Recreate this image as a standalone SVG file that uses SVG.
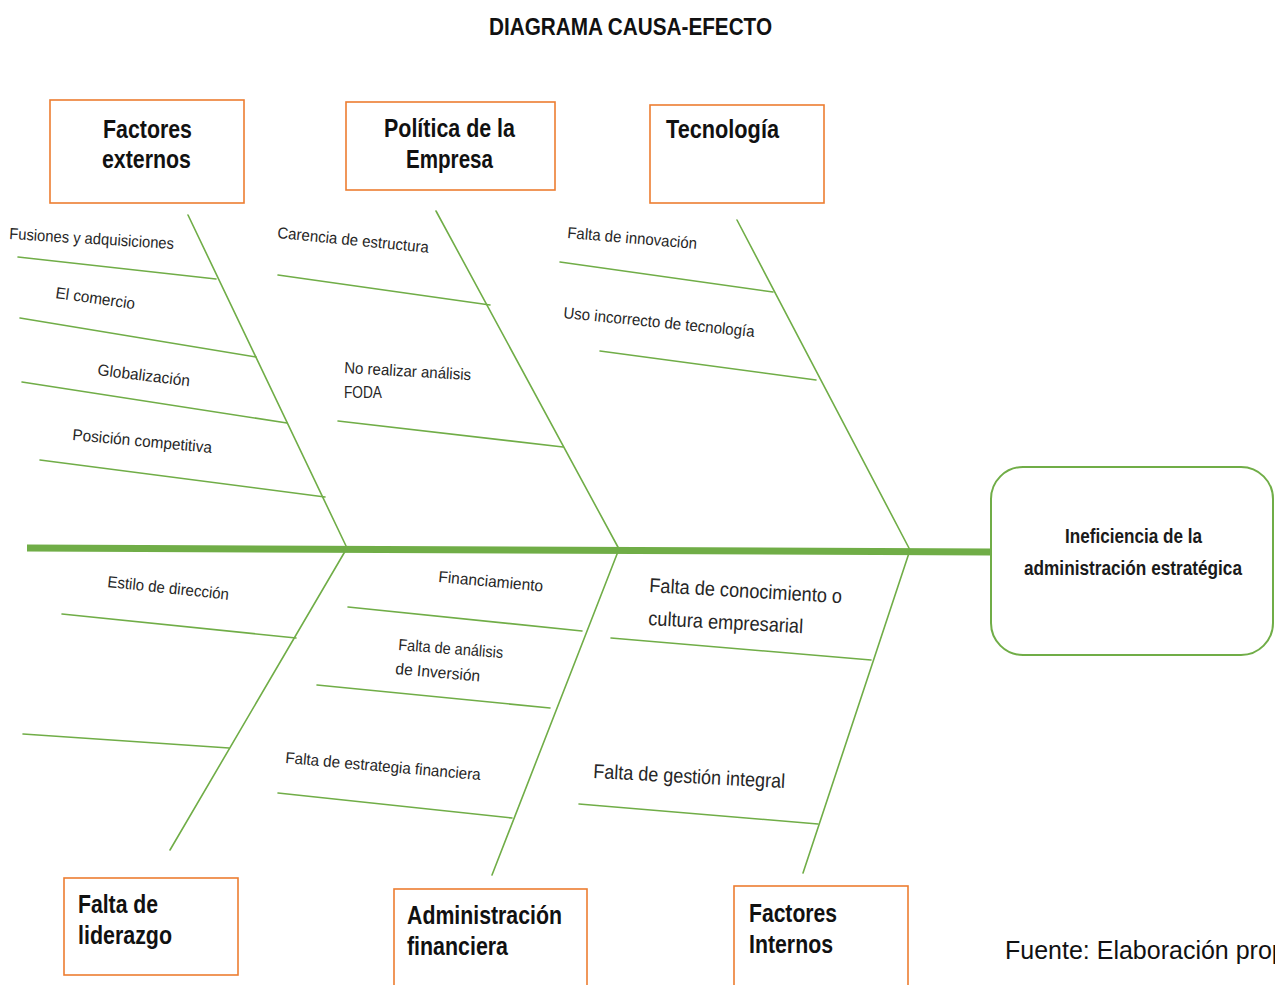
<svg xmlns="http://www.w3.org/2000/svg" width="1275" height="985" viewBox="0 0 1275 985">
  <style>
    .cat { fill: #ffffff; stroke: #ED7D31; stroke-width: 1.6; }
    .cat-text { font-family: "Liberation Sans", Arial, sans-serif; font-weight: bold; font-size: 25px; fill: #111111; }
    .bone { stroke: #70AD47; stroke-width: 1.6; fill: none; stroke-linecap: round; }
    .spine { stroke: #70AD47; stroke-width: 7; fill: none; }
    .cause { font-family: "Liberation Sans", Arial, sans-serif; font-size: 16px; fill: #262626; }
    .cause-lg { font-family: "Liberation Sans", Arial, sans-serif; font-size: 20px; fill: #262626; }
    .effect { fill: #ffffff; stroke: #70AD47; stroke-width: 2; }
    .effect-text { font-family: "Liberation Sans", Arial, sans-serif; font-weight: bold; font-size: 20px; fill: #1a1a1a; }
    .title { font-family: "Liberation Sans", Arial, sans-serif; font-weight: bold; font-size: 24px; fill: #111111; }
    .source { font-family: "Liberation Sans", Arial, sans-serif; font-size: 25px; fill: #111111; }
  </style>

  <rect width="1275" height="985" fill="#ffffff"/>

  <text class="title" x="489" y="35" textLength="283" lengthAdjust="spacingAndGlyphs">DIAGRAMA CAUSA-EFECTO</text>

  <!-- fish skeleton: spine, main bones and cause lines -->
  <g id="connectors">
    <line class="spine" x1="27" y1="548" x2="991" y2="552"/>

    <!-- upper main bones -->
    <line class="bone" x1="188" y1="215" x2="347" y2="548"/>
    <line class="bone" x1="436" y1="211" x2="619" y2="549"/>
    <line class="bone" x1="737" y1="220" x2="910" y2="550"/>
    <!-- lower main bones -->
    <line class="bone" x1="347" y1="548" x2="170" y2="850"/>
    <line class="bone" x1="619" y1="549" x2="492" y2="875"/>
    <line class="bone" x1="910" y1="550" x2="803" y2="873"/>

    <!-- Factores externos causes -->
    <line class="bone" x1="18" y1="257" x2="216" y2="279"/>
    <line class="bone" x1="20" y1="318" x2="256" y2="357"/>
    <line class="bone" x1="22" y1="382" x2="287" y2="423"/>
    <line class="bone" x1="40" y1="460" x2="325" y2="497"/>
    <!-- Política de la Empresa causes -->
    <line class="bone" x1="278" y1="275" x2="490" y2="305"/>
    <line class="bone" x1="338" y1="421" x2="563" y2="447"/>
    <!-- Tecnología causes -->
    <line class="bone" x1="560" y1="262" x2="773" y2="292"/>
    <line class="bone" x1="600" y1="351" x2="816" y2="380"/>
    <!-- Falta de liderazgo causes -->
    <line class="bone" x1="62" y1="614" x2="296" y2="638"/>
    <line class="bone" x1="23" y1="734" x2="229" y2="748"/>
    <!-- Administración financiera causes -->
    <line class="bone" x1="348" y1="607" x2="582" y2="631"/>
    <line class="bone" x1="317" y1="685" x2="550" y2="708"/>
    <line class="bone" x1="278" y1="793" x2="512" y2="818"/>
    <!-- Factores Internos causes -->
    <line class="bone" x1="611" y1="638" x2="871" y2="660"/>
    <line class="bone" x1="579" y1="804" x2="818" y2="824"/>
  </g>

  <!-- cause labels -->
  <g id="cause-labels">
    <text class="cause" transform="translate(9,239) rotate(3.5)" textLength="165" lengthAdjust="spacingAndGlyphs">Fusiones y adquisiciones</text>
    <text class="cause" transform="translate(55,298) rotate(8)" textLength="80" lengthAdjust="spacingAndGlyphs">El comercio</text>
    <text class="cause" transform="translate(97,375) rotate(7)" textLength="93" lengthAdjust="spacingAndGlyphs">Globalización</text>
    <text class="cause" transform="translate(72,440) rotate(5.3)" textLength="140" lengthAdjust="spacingAndGlyphs">Posición competitiva</text>

    <text class="cause" transform="translate(277,238) rotate(5.6)" textLength="152" lengthAdjust="spacingAndGlyphs">Carencia de estructura</text>
    <text class="cause" transform="translate(344,373) rotate(3.2)" textLength="127" lengthAdjust="spacingAndGlyphs">No realizar análisis</text>
    <text class="cause" x="344" y="398" textLength="38" lengthAdjust="spacingAndGlyphs">FODA</text>

    <text class="cause" transform="translate(567,238) rotate(4.8)" textLength="130" lengthAdjust="spacingAndGlyphs">Falta de innovación</text>
    <text class="cause" transform="translate(563,318) rotate(5.7)" textLength="192" lengthAdjust="spacingAndGlyphs">Uso incorrecto de tecnología</text>

    <text class="cause" transform="translate(107,587) rotate(6)" textLength="122" lengthAdjust="spacingAndGlyphs">Estilo de dirección</text>

    <text class="cause" transform="translate(438,582) rotate(5.2)" textLength="105" lengthAdjust="spacingAndGlyphs">Financiamiento</text>
    <text class="cause" transform="translate(398,650) rotate(4.4)" textLength="105" lengthAdjust="spacingAndGlyphs">Falta de análisis</text>
    <text class="cause" transform="translate(395,674) rotate(5)" textLength="85" lengthAdjust="spacingAndGlyphs">de Inversión</text>
    <text class="cause" transform="translate(285,763) rotate(5)" textLength="196" lengthAdjust="spacingAndGlyphs">Falta de estrategia financiera</text>

    <text class="cause-lg" transform="translate(649,592) rotate(3.3)" textLength="193" lengthAdjust="spacingAndGlyphs">Falta de conocimiento o</text>
    <text class="cause-lg" transform="translate(648,625) rotate(3)" textLength="155" lengthAdjust="spacingAndGlyphs">cultura empresarial</text>
    <text class="cause-lg" transform="translate(593,778) rotate(3)" textLength="192" lengthAdjust="spacingAndGlyphs">Falta de gestión integral</text>
  </g>

  <!-- category boxes -->
  <g id="factores-externos">
    <rect class="cat" x="50" y="100" width="194" height="103"/>
    <text class="cat-text" x="103" y="138" textLength="89" lengthAdjust="spacingAndGlyphs">Factores</text>
    <text class="cat-text" x="102" y="168" textLength="89" lengthAdjust="spacingAndGlyphs">externos</text>
  </g>

  <g id="politica-empresa">
    <rect class="cat" x="346" y="102" width="209" height="88"/>
    <text class="cat-text" x="384" y="137" textLength="131" lengthAdjust="spacingAndGlyphs">Política de la</text>
    <text class="cat-text" x="406" y="168" textLength="87" lengthAdjust="spacingAndGlyphs">Empresa</text>
  </g>

  <g id="tecnologia">
    <rect class="cat" x="650" y="105" width="174" height="98"/>
    <text class="cat-text" x="666" y="138" textLength="113" lengthAdjust="spacingAndGlyphs">Tecnología</text>
  </g>

  <g id="falta-liderazgo">
    <rect class="cat" x="64" y="878" width="174" height="97"/>
    <text class="cat-text" x="78" y="913" textLength="80" lengthAdjust="spacingAndGlyphs">Falta de</text>
    <text class="cat-text" x="78" y="944" textLength="94" lengthAdjust="spacingAndGlyphs">liderazgo</text>
  </g>

  <g id="administracion-financiera">
    <rect class="cat" x="394" y="889" width="193" height="104"/>
    <text class="cat-text" x="407" y="924" textLength="155" lengthAdjust="spacingAndGlyphs">Administración</text>
    <text class="cat-text" x="407" y="955" textLength="101" lengthAdjust="spacingAndGlyphs">financiera</text>
  </g>

  <g id="factores-internos">
    <rect class="cat" x="734" y="886" width="174" height="107"/>
    <text class="cat-text" x="749" y="922" textLength="88" lengthAdjust="spacingAndGlyphs">Factores</text>
    <text class="cat-text" x="749" y="953" textLength="84" lengthAdjust="spacingAndGlyphs">Internos</text>
  </g>

  <!-- effect (fish head) -->
  <g id="efecto">
    <rect class="effect" x="991" y="467" width="282" height="188" rx="32" ry="32"/>
    <text class="effect-text" x="1065" y="543" textLength="137" lengthAdjust="spacingAndGlyphs">Ineficiencia de la</text>
    <text class="effect-text" x="1024" y="575" textLength="218" lengthAdjust="spacingAndGlyphs">administración estratégica</text>
  </g>

  <text class="source" x="1005" y="959">Fuente: Elaboración propia</text>
</svg>
